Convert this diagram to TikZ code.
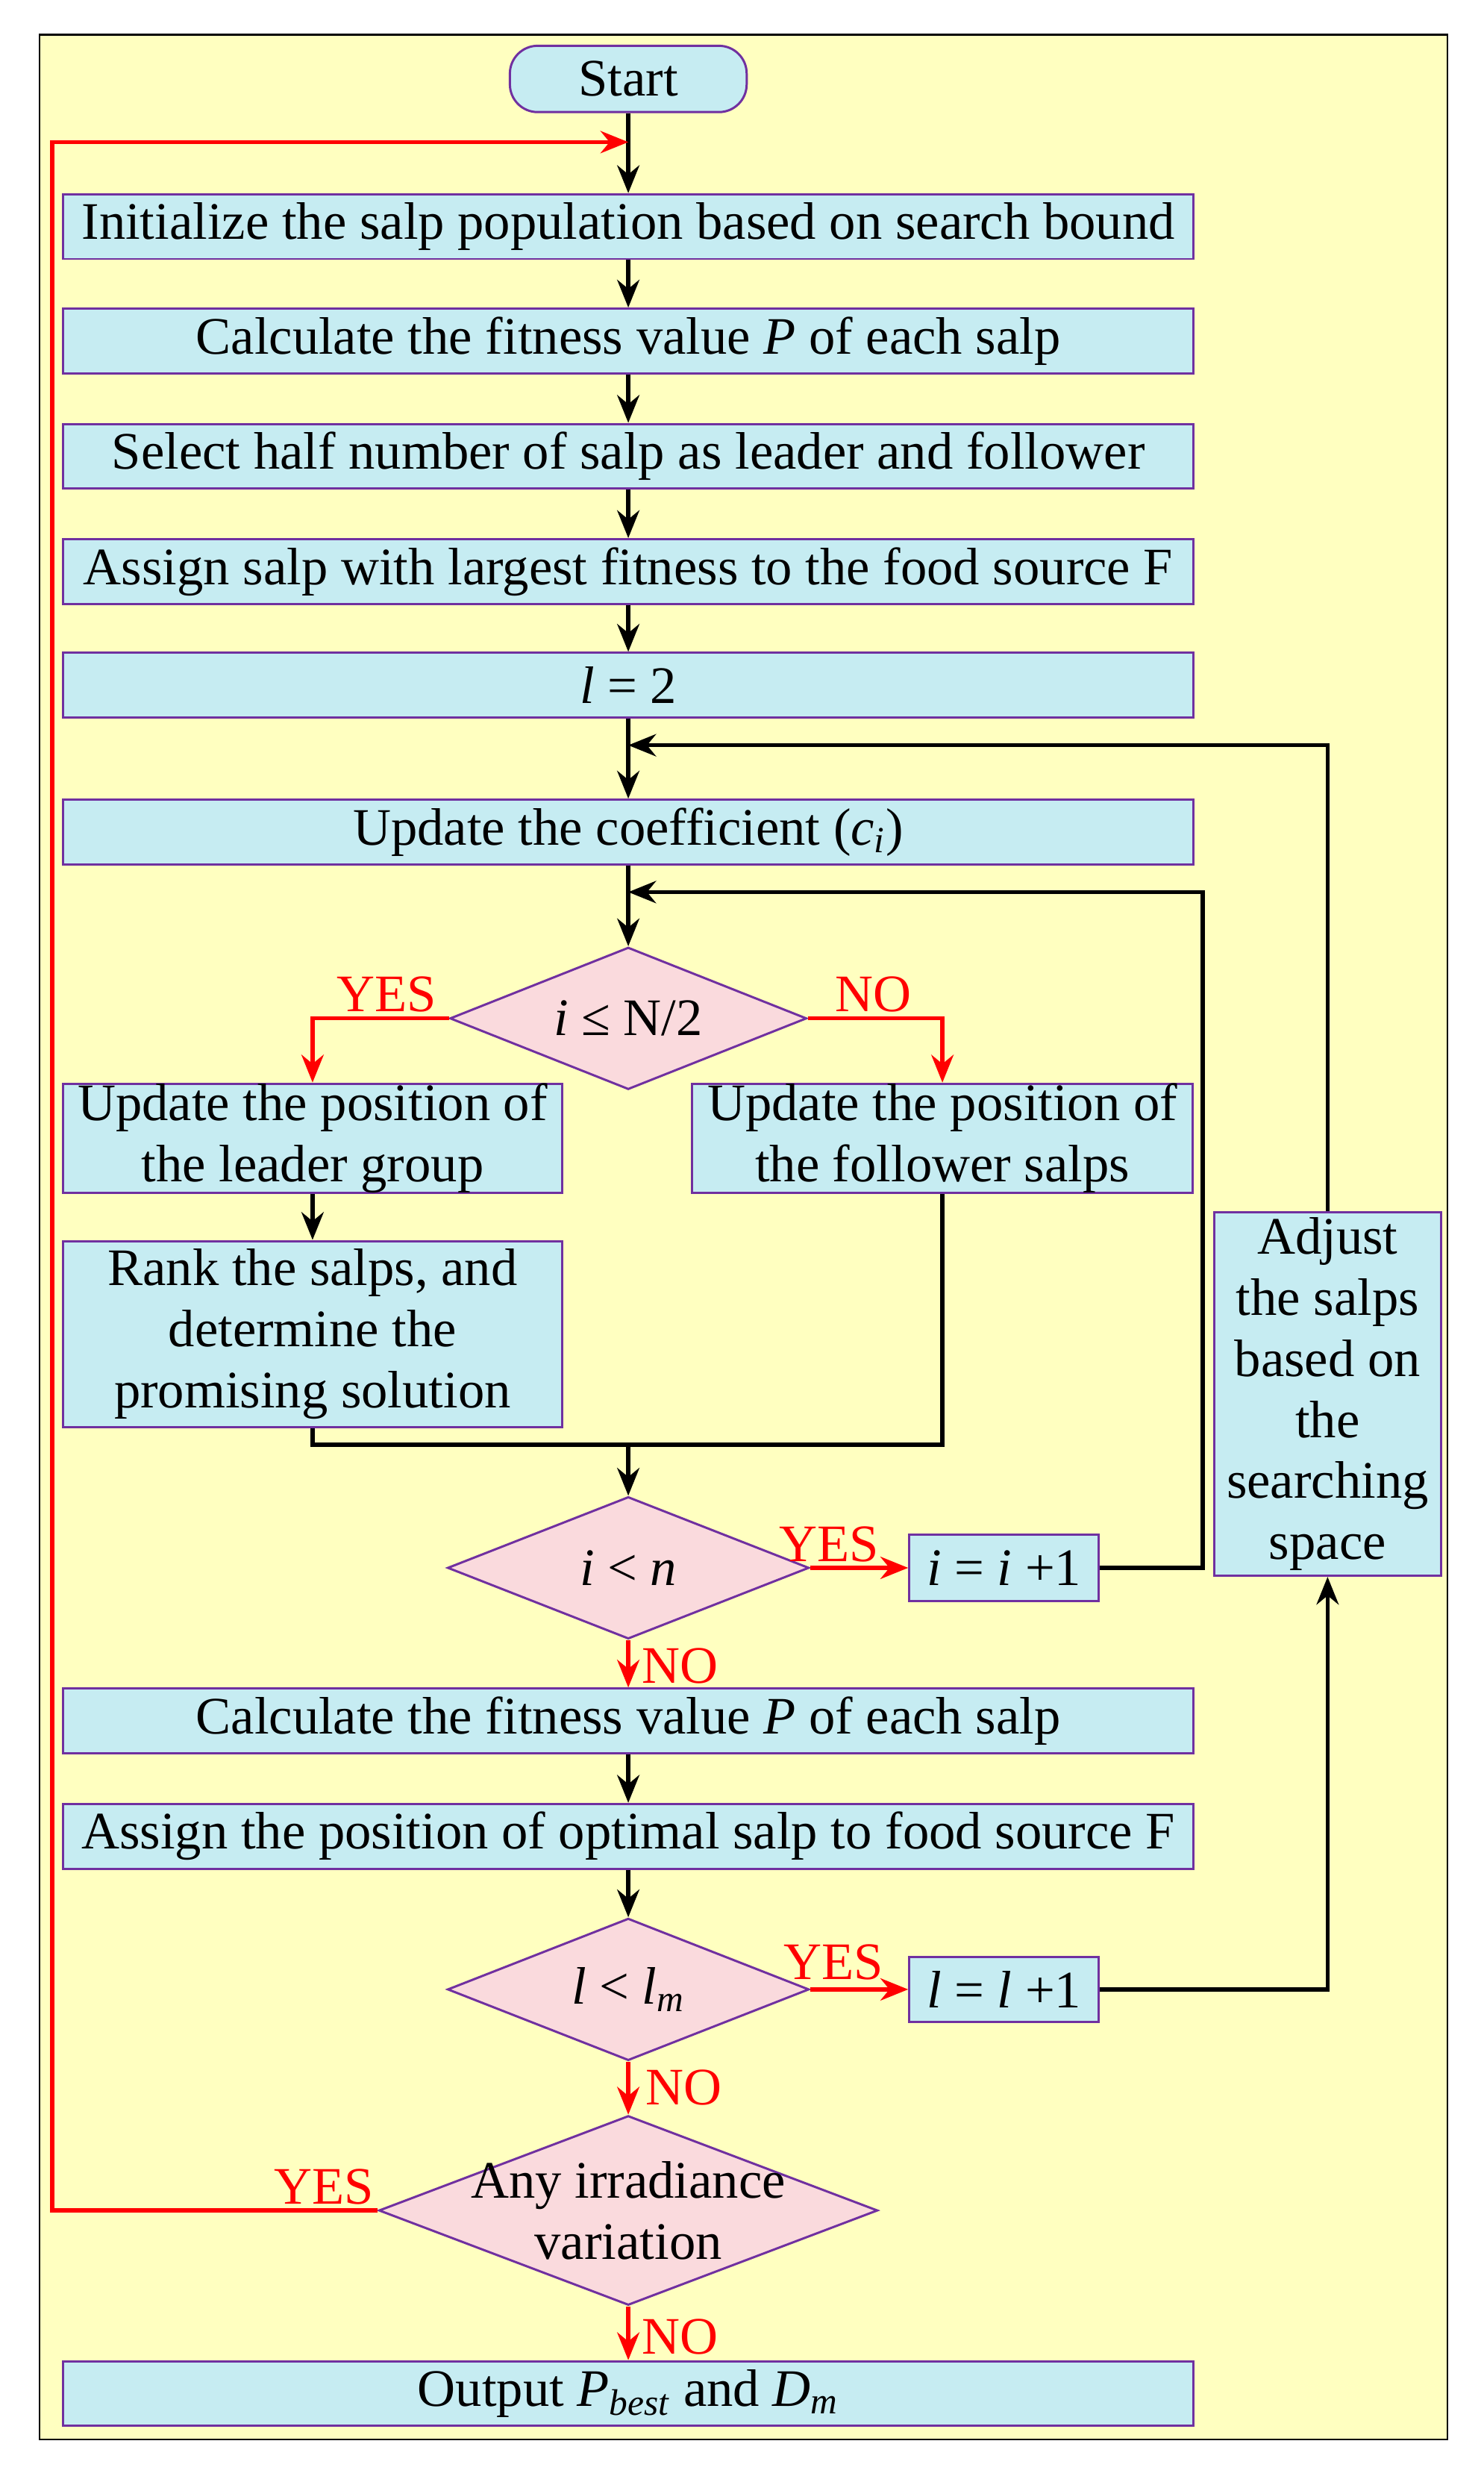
\documentclass[tikz,border=0pt]{standalone}
\usepackage{fontspec}
\setmainfont{Liberation Serif}
\usepackage{tikz}
\usetikzlibrary{shapes.geometric,arrows.meta,positioning}
\definecolor{bg}{RGB}{255,255,192}
\definecolor{boxfill}{RGB}{198,236,242}
\definecolor{dfill}{RGB}{250,218,221}
\definecolor{edge}{RGB}{112,48,160}
\tikzstyle{process} = [rectangle, draw=edge, fill=boxfill, line width=0.8pt, inner sep=0pt, font=\fontsize{19}{22}\selectfont, align=center]
\tikzstyle{decision} = [diamond, draw=edge, fill=dfill, line width=0.8pt, inner sep=0pt]
\tikzstyle{dtext} = [font=\fontsize{19}{22}\selectfont, align=center]
\tikzstyle{line} = [draw, line width=1.5pt, -{Stealth[length=10pt,width=8pt]}]
\tikzstyle{redline} = [line, red]
\tikzstyle{lab} = [red, font=\fontsize{19}{22}\selectfont]
\begin{document}
\begin{tikzpicture}[x=0.02cm, y=-0.02cm]
    \useasboundingbox (0,0) rectangle (940,1572);
    \draw [fill=bg, line width=0.6pt] (25,22) rectangle (917,1545);

    \node [process, rounded corners=10pt, minimum width=150*0.02cm, minimum height=42*0.02cm] (start) at (398,50) {Start};
    \node [process, minimum width=716*0.02cm, minimum height=41*0.02cm] (init) at (398,143.5) {Initialize the salp population based on search bound};
    \node [process, minimum width=716*0.02cm, minimum height=41*0.02cm] (fit) at (398,216) {Calculate the fitness value \textit{P} of each salp};
    \node [process, minimum width=716*0.02cm, minimum height=41*0.02cm] (select) at (398,289) {Select half number of salp as leader and follower};
    \node [process, minimum width=716*0.02cm, minimum height=41*0.02cm] (assign) at (398,362) {Assign salp with largest fitness to the food source F};
    \node [process, minimum width=716*0.02cm, minimum height=41*0.02cm] (ltwo) at (398,434) {\textit{l} = 2};
    \node [process, minimum width=716*0.02cm, minimum height=41*0.02cm] (coef) at (398,527) {Update the coefficient (\textit{c\textsubscript{i}})};
    \node [decision, minimum width=226*0.02cm, minimum height=90*0.02cm] (half) at (398,645) {};
    \node [dtext] at (half) {\textit{i} ≤ N/2};
    \node [process, minimum width=316*0.02cm, minimum height=68*0.02cm] (leader) at (198,721) {Update the position of\\the leader group};
    \node [process, minimum width=317*0.02cm, minimum height=68*0.02cm] (follower) at (597,721) {Update the position of\\the follower salps};
    \node [process, minimum width=316*0.02cm, minimum height=118*0.02cm] (rank) at (198,845) {Rank the salps, and\\determine the\\promising solution};
    \node [decision, minimum width=229*0.02cm, minimum height=90*0.02cm] (iless) at (398,993) {};
    \node [dtext] at (iless) {\textit{i} < \textit{n}};
    \node [process, minimum width=120*0.02cm, minimum height=42*0.02cm] (inc) at (636,993) {\textit{i} = \textit{i} +1};
    \node [process, minimum width=144*0.02cm, minimum height=230*0.02cm] (adjust) at (841,883) {Adjust\\the salps\\based on\\the\\searching\\space};
    \node [process, minimum width=716*0.02cm, minimum height=41*0.02cm] (fit2) at (398,1090) {Calculate the fitness value \textit{P} of each salp};
    \node [process, minimum width=716*0.02cm, minimum height=41*0.02cm] (assign2) at (398,1163) {Assign the position of optimal salp to food source F};
    \node [decision, minimum width=229*0.02cm, minimum height=90*0.02cm] (lless) at (398,1260) {};
    \node [dtext] at (lless) {\textit{l} < \textit{l\textsubscript{m}}};
    \node [process, minimum width=120*0.02cm, minimum height=41*0.02cm] (linc) at (636,1260) {\textit{l} = \textit{l} +1};
    \node [decision, minimum width=316*0.02cm, minimum height=120*0.02cm] (irr) at (398,1400) {};
    \node [dtext] at (irr) {Any irradiance\\variation};
    \node [process, minimum width=716*0.02cm, minimum height=41*0.02cm] (output) at (398,1516) {Output \textit{P\textsubscript{best}} and \textit{D\textsubscript{m}}};
    \coordinate (merge) at (398,915);

    \path [line] (start) -- (init);
    \path [line] (init) -- (fit);
    \path [line] (fit) -- (select);
    \path [line] (select) -- (assign);
    \path [line] (assign) -- (ltwo);
    \path [line] (ltwo) -- (coef);
    \path [line] (coef) -- (half);
    \path [redline] (half.west) -| (leader.north);
    \path [redline] (half.east) -| (follower.north);
    \path [line] (leader) -- (rank);
    \draw [line width=1.5pt] (rank.south) |- (merge) -| (follower.south);
    \path [line] (merge) -- (iless);
    \path [redline] (iless) -- (inc);
    \path [line] (inc.east) -| (762,565) -- (398,565);
    \path [redline] (iless) -- (fit2);
    \path [line] (fit2) -- (assign2);
    \path [line] (assign2) -- (lless);
    \path [redline] (lless) -- (linc);
    \path [line] (linc.east) -| (adjust.south);
    \path [line] (adjust.north) |- (398,472);
    \path [redline] (lless) -- (irr);
    \path [redline] (irr) -- (output);
    \path [redline] (irr.west) -- (33,1400) |- (398,90);

    \node [lab] at (245,630) {YES};
    \node [lab] at (553,630) {NO};
    \node [lab] at (525,978) {YES};
    \node [lab] at (431,1055) {NO};
    \node [lab] at (528,1243) {YES};
    \node [lab] at (433,1322) {NO};
    \node [lab] at (205,1385) {YES};
    \node [lab] at (431,1480) {NO};
\end{tikzpicture}
\end{document}
